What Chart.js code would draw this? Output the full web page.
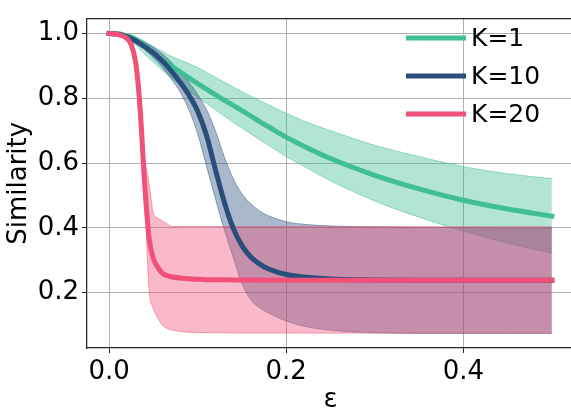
<!DOCTYPE html>
<html>
<head>
<meta charset="utf-8">
<script src="https://cdn.jsdelivr.net/npm/chart.js@4/dist/chart.umd.min.js"></script>
<style>
  html, body { margin: 0; padding: 0; background: #fff; overflow: hidden; }
  #wrap { width: 571px; height: 417px; overflow: hidden; }
</style>
</head>
<body>
<div id="wrap"><canvas id="chart" width="576" height="417"></canvas></div>
<script>
// ========== DATA ==========
const eps = [0, 0.01, 0.02, 0.025, 0.03, 0.035, 0.04, 0.045, 0.05, 0.055, 0.06, 0.065, 0.07,
  0.08, 0.09, 0.1, 0.11, 0.12, 0.13, 0.14, 0.15, 0.16, 0.17, 0.18, 0.2, 0.22, 0.25, 0.3, 0.35, 0.4, 0.45, 0.5];

const k1Mean = [1, 0.999, 0.993, 0.989, 0.982, 0.973, 0.962, 0.95, 0.938, 0.928, 0.919, 0.91, 0.9,
  0.882, 0.863, 0.845, 0.828, 0.811, 0.794, 0.778, 0.762, 0.745, 0.728, 0.712, 0.68, 0.652, 0.614, 0.562, 0.52, 0.485, 0.458, 0.436];
const k1Upper = [1, 1, 0.996, 0.993, 0.989, 0.983, 0.976, 0.968, 0.96, 0.952, 0.945, 0.937, 0.93,
  0.918, 0.907, 0.895, 0.88, 0.865, 0.85, 0.835, 0.82, 0.806, 0.793, 0.78, 0.754, 0.73, 0.7, 0.655, 0.62, 0.589, 0.567, 0.552];
const k1Lower = [1, 0.996, 0.984, 0.975, 0.964, 0.951, 0.937, 0.924, 0.911, 0.899, 0.887, 0.875, 0.863,
  0.842, 0.822, 0.803, 0.784, 0.765, 0.745, 0.726, 0.708, 0.69, 0.672, 0.655, 0.62, 0.59, 0.545, 0.483, 0.433, 0.39, 0.353, 0.322];

const k10Mean = [1, 0.998, 0.99, 0.984, 0.977, 0.969, 0.96, 0.95, 0.94, 0.928, 0.915, 0.901, 0.885,
  0.85, 0.81, 0.76, 0.685, 0.58, 0.48, 0.4, 0.345, 0.31, 0.288, 0.273, 0.256, 0.248, 0.242, 0.239, 0.238, 0.238, 0.238, 0.238];
const k10Upper = [1, 0.999, 0.995, 0.991, 0.986, 0.98, 0.973, 0.965, 0.957, 0.947, 0.937, 0.925, 0.912,
  0.883, 0.85, 0.812, 0.765, 0.7, 0.62, 0.553, 0.505, 0.474, 0.452, 0.437, 0.419, 0.411, 0.406, 0.403, 0.402, 0.401, 0.4, 0.4];
const k10Lower = [1, 0.997, 0.986, 0.979, 0.97, 0.961, 0.95, 0.938, 0.925, 0.911, 0.895, 0.878, 0.86,
  0.82, 0.765, 0.69, 0.59, 0.49, 0.395, 0.31, 0.228, 0.178, 0.153, 0.137, 0.112, 0.096, 0.084, 0.076, 0.074, 0.074, 0.074, 0.074];

const k20Mean = [1, 0.997, 0.985, 0.965, 0.91, 0.77, 0.54, 0.37, 0.305, 0.278, 0.26, 0.253, 0.249,
  0.245, 0.243, 0.241, 0.24, 0.24, 0.24, 0.239, 0.239, 0.239, 0.239, 0.238, 0.238, 0.238, 0.238, 0.238, 0.238, 0.238, 0.238, 0.238];
const k20Upper = [1, 0.999, 0.99, 0.975, 0.93, 0.8, 0.62, 0.54, 0.445, 0.43, 0.421, 0.413, 0.405,
  0.404, 0.404, 0.404, 0.404, 0.404, 0.404, 0.404, 0.404, 0.404, 0.404, 0.404, 0.404, 0.404, 0.403, 0.403, 0.403, 0.403, 0.403, 0.403];
const k20Lower = [1, 0.995, 0.98, 0.955, 0.87, 0.68, 0.5, 0.215, 0.15, 0.122, 0.1, 0.09, 0.085,
  0.08, 0.078, 0.077, 0.076, 0.076, 0.076, 0.075, 0.075, 0.075, 0.075, 0.075, 0.075, 0.075, 0.075, 0.075, 0.075, 0.075, 0.075, 0.075];

const seriesLabels = ["K=1", "K=10", "K=20"];
const xTicks = [0, 0.2, 0.4];
const yTicks = [0.2, 0.4, 0.6, 0.8, 1.0];

// ========== STYLE ==========
const COLORS = ["rgb(66,190,150)", "rgb(40,78,122)", "rgb(240,80,122)"];
const BANDS = ["rgba(66,190,150,0.4)", "rgba(40,78,122,0.4)", "rgba(240,80,122,0.4)"];
const EDGES = ["rgba(66,190,150,0.5)", "rgba(40,78,122,0.45)", "rgba(240,80,122,0.5)"];
const FONT = "DejaVu Sans";

const toPoints = (ys) => eps.map((x, i) => ({ x, y: ys[i] }));

const bandPair = (upper, lower, idx) => [
  {
    label: "",
    data: toPoints(upper),
    borderColor: EDGES[idx],
    borderWidth: 1,
    backgroundColor: BANDS[idx],
    fill: "+1",
    order: 20 - idx * 2,
  },
  {
    label: "",
    data: toPoints(lower),
    borderColor: EDGES[idx],
    borderWidth: 1,
    fill: false,
    order: 19 - idx * 2,
  },
];

const meanLine = (ys, idx) => ({
  label: seriesLabels[idx],
  data: toPoints(ys),
  borderColor: COLORS[idx],
  borderWidth: 5,
  borderCapStyle: "square",
  fill: false,
  order: 3 - idx,
});

// ========== PLUGINS ==========
const frameAndLegend = {
  id: "frameAndLegend",
  afterDraw(chart) {
    const { ctx, chartArea } = chart;
    ctx.save();
    ctx.strokeStyle = "#262626";
    ctx.lineWidth = 1.25;
    ctx.beginPath();
    ctx.moveTo(chartArea.left, chartArea.top);
    ctx.lineTo(chartArea.right, chartArea.top);
    ctx.stroke();

    ctx.font = `25px '${FONT}'`;
    ctx.textBaseline = "middle";
    ctx.fillStyle = "#000";
    const rowY = [38, 76, 114];
    seriesLabels.forEach((label, i) => {
      ctx.strokeStyle = COLORS[i];
      ctx.lineWidth = 5;
      ctx.beginPath();
      ctx.moveTo(406, rowY[i]);
      ctx.lineTo(466, rowY[i]);
      ctx.stroke();
      ctx.fillText(label, 471, rowY[i] + 1);
    });
    ctx.restore();
  },
};

// ========== CHART ==========
Chart.defaults.font.family = FONT;
Chart.defaults.color = "#000";

new Chart(document.getElementById("chart"), {
  type: "line",
  data: {
    datasets: [
      meanLine(k1Mean, 0),
      meanLine(k10Mean, 1),
      meanLine(k20Mean, 2),
      ...bandPair(k1Upper, k1Lower, 0),
      ...bandPair(k10Upper, k10Lower, 1),
      ...bandPair(k20Upper, k20Lower, 2),
    ],
  },
  options: {
    responsive: false,
    animation: false,
    layout: { padding: { top: 4, right: 2, left: 0, bottom: 0 } },
    elements: {
      point: { radius: 0 },
      line: { cubicInterpolationMode: "monotone" },
    },
    plugins: {
      legend: { display: false },
      tooltip: { enabled: false },
    },
    scales: {
      x: {
        type: "linear",
        min: -0.025,
        max: 0.525,
        afterBuildTicks: (scale) => {
          scale.ticks = xTicks.map((value) => ({ value }));
        },
        afterFit: (scale) => {
          scale.height = 69;
        },
        ticks: {
          font: { size: 26 },
          padding: 4,
          maxRotation: 0,
          callback: (v) => Number(v).toFixed(1),
        },
        grid: { color: "#b0b0b0", lineWidth: 1, tickLength: 5, tickColor: "#262626", tickWidth: 1 },
        border: { display: true, color: "#262626", width: 1.25 },
        title: { display: true, text: "ε", font: { size: 26 }, padding: { top: 0, bottom: 1 } },
      },
      y: {
        type: "linear",
        min: 0.029,
        max: 1.046,
        afterBuildTicks: (scale) => {
          scale.ticks = yTicks.map((value) => ({ value }));
        },
        afterFit: (scale) => {
          scale.width = 87;
        },
        ticks: {
          font: { size: 26 },
          padding: 3,
          callback: (v) => Number(v).toFixed(1),
        },
        grid: { color: "#b0b0b0", lineWidth: 1, tickLength: 5, tickColor: "#262626", tickWidth: 1 },
        border: { display: true, color: "#262626", width: 1.25 },
        title: { display: true, text: "Similarity", font: { size: 26 }, padding: { top: 4, bottom: 0 } },
      },
    },
  },
  plugins: [frameAndLegend],
});
</script>
</body>
</html>
